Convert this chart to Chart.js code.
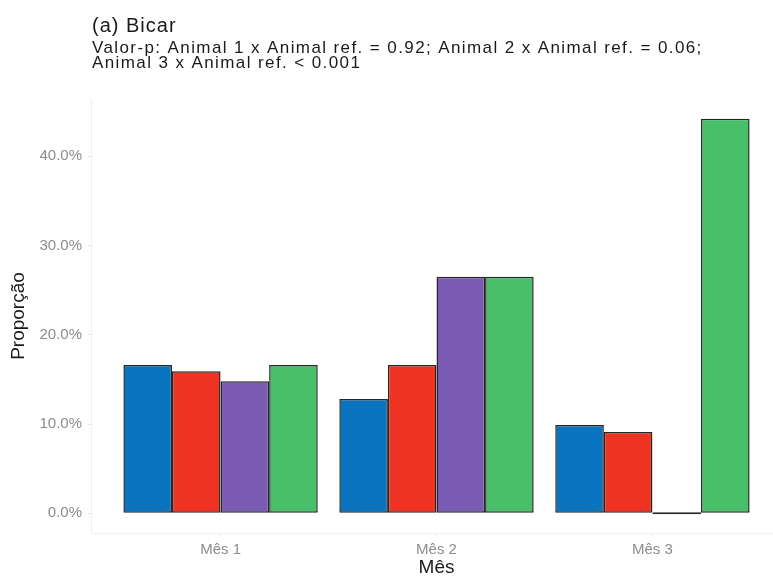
<!DOCTYPE html>
<html>
<head>
<meta charset="utf-8">
<script src="https://cdn.jsdelivr.net/npm/chart.js@4.4.1/dist/chart.umd.min.js"></script>
<style>
  html, body { margin: 0; padding: 0; background: #ffffff; overflow: hidden; }
  #wrap { width: 800px; height: 579px; }
</style>
</head>
<body>
<div id="wrap"><canvas id="bicarChart" width="800" height="579"></canvas></div>
<script>
const months = ["Mês 1", "Mês 2", "Mês 3"];
const animals = ["Animal 1", "Animal 2", "Animal 3", "Animal ref."];
const animal1 = [16.6, 12.8, 9.9];
const animal2 = [15.9, 16.6, 9.1];
const animal3 = [14.8, 26.5, 0];
const animalRef = [16.6, 26.5, 44.2];
const yTicks = [0, 10, 20, 30, 40];

const fillColors = ["#0a74c0", "#ef3323", "#7a5bb3", "#48bf68"];
const font = "'Liberation Sans', Arial, sans-serif";

const titleText = "(a) Bicar";
const subtitleLines = [
  "Valor-p: Animal 1 x Animal ref. = 0.92; Animal 2 x Animal ref. = 0.06;",
  "Animal 3 x Animal ref. < 0.001",
];

// ggplot-like panel: 0.6 units of padding around the three groups, 5% on y
const maxValue = Math.max(...animal1, ...animal2, ...animal3, ...animalRef);

function toPoints(values) {
  return values.map((v, i) => ({ x: i + 1, y: v }));
}

// title + subtitle aligned with the panel's left edge
const panelTitles = {
  id: "panelTitles",
  afterDraw(chart) {
    const ctx = chart.ctx;
    const left = chart.chartArea.left + 1;
    ctx.save();
    ctx.fillStyle = "#1a1a1a";
    ctx.textAlign = "left";
    ctx.textBaseline = "alphabetic";
    ctx.font = "20px " + font;
    ctx.letterSpacing = "1px";
    ctx.fillText(titleText, left, 32);
    ctx.font = "17px " + font;
    ctx.letterSpacing = "1.4px";
    ctx.fillText(subtitleLines[0], left, 53);
    ctx.fillText(subtitleLines[1], left, 68);
    ctx.restore();
  },
};

const datasets = [animal1, animal2, animal3, animalRef].map((values, i) => ({
  label: animals[i],
  data: toPoints(values),
  backgroundColor: fillColors[i],
  borderColor: "#262626",
  borderWidth: 1.5,
  borderSkipped: false,
  minBarLength: 2,
  categoryPercentage: 0.9,
  barPercentage: 1.0,
}));

const config = {
  type: "bar",
  data: { datasets: datasets },
  options: {
    responsive: false,
    animation: false,
    layout: {
      padding: { top: 99, right: 18, left: 0, bottom: 0 },
    },
    plugins: {
      legend: { display: false },
      tooltip: { enabled: false },
    },
    scales: {
      x: {
        type: "linear",
        offset: false,
        min: 0.4,
        max: 3.6,
        afterBuildTicks: (axis) => {
          axis.ticks = months.map((m, i) => ({ value: i + 1 }));
        },
        afterFit: (axis) => {
          axis.height = 46;
        },
        ticks: {
          color: "#8c8c8c",
          font: { family: font, size: 15 },
          padding: 5,
          maxRotation: 0,
          callback: (value) => months[value - 1],
        },
        grid: {
          offset: false,
          drawOnChartArea: false,
          drawTicks: true,
          tickLength: 3,
          color: "#e6e6e6",
        },
        border: { display: true, color: "#f0f0f0", width: 1 },
        title: {
          display: true,
          text: "Mês",
          color: "#1a1a1a",
          font: { family: font, size: 19 },
          padding: { top: 0, bottom: 0 },
        },
      },
      y: {
        min: -maxValue * 0.05,
        max: maxValue * 1.05,
        afterBuildTicks: (axis) => {
          axis.ticks = yTicks.map((v) => ({ value: v }));
        },
        afterFit: (axis) => {
          axis.width = 91;
        },
        ticks: {
          color: "#8c8c8c",
          font: { family: font, size: 15 },
          padding: 6,
          callback: (value) => value.toFixed(1) + "%",
        },
        grid: {
          drawOnChartArea: false,
          drawTicks: true,
          tickLength: 3,
          color: "#e6e6e6",
        },
        border: { display: true, color: "#f0f0f0", width: 1 },
        title: {
          display: true,
          text: "Proporção",
          color: "#1a1a1a",
          font: { family: font, size: 19 },
          padding: { top: 7, bottom: 0 },
        },
      },
    },
  },
  plugins: [panelTitles],
};

var bicarChart = new Chart(document.getElementById("bicarChart"), config);
</script>
</body>
</html>
